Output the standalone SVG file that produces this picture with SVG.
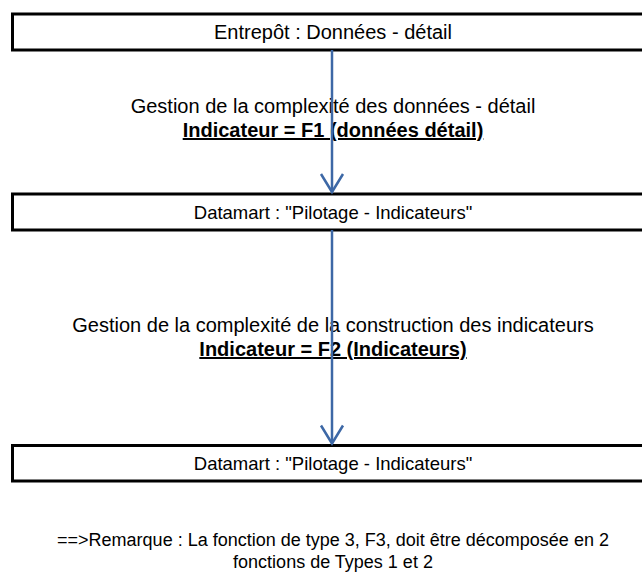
<svg xmlns="http://www.w3.org/2000/svg" width="642" height="573" viewBox="0 0 642 573">
<defs>
<style>
.box{fill:#fff;stroke:#000;stroke-width:3}
.t{font-family:"Liberation Sans",Arial,sans-serif;font-size:20px;fill:#000;text-anchor:middle}
.s{font-size:18px}
.m{font-size:18.5px}
.b{font-weight:bold;text-decoration:underline}
.conn{stroke:#3d68a6;stroke-width:2.5;fill:none}
</style>
<marker id="arr" markerUnits="userSpaceOnUse" markerWidth="22" markerHeight="26" refX="19" refY="12" orient="auto" viewBox="0 0 22 24" overflow="visible">
<path d="M1,1 L19,12 L1,23" fill="none" stroke="#3d68a6" stroke-width="2.5"/>
</marker>
</defs>
<rect width="642" height="573" fill="#fff"/>
<g id="n1"><rect class="box" x="12.5" y="14" width="640" height="36"/><text class="t" x="333" y="39">Entrepôt : Données - détail</text></g>
<g id="n2"><rect class="box" x="12.5" y="194" width="640" height="36"/><text class="t m" x="333" y="218.5">Datamart : "Pilotage - Indicateurs"</text></g>
<g id="n3"><rect class="box" x="12.5" y="445.5" width="640" height="35.5"/><text class="t m" x="333" y="469.5">Datamart : "Pilotage - Indicateurs"</text></g>
<g id="labels">
<text class="t" x="333" y="113">Gestion de la complexité des données - détail</text>
<text class="t b" x="333" y="137">Indicateur = F1 (données détail)</text>
<text class="t" x="333" y="332">Gestion de la complexité de la construction des indicateurs</text>
<text class="t b" x="333" y="356">Indicateur = F2 (Indicateurs)</text>
<text class="t s" x="333" y="546">==&gt;Remarque : La fonction de type 3, F3, doit être décomposée en 2</text>
<text class="t s" x="333" y="568">fonctions de Types 1 et 2</text>
</g>
<g id="connectors">
<line class="conn" x1="332" y1="50" x2="332" y2="192" marker-end="url(#arr)"/>
<line class="conn" x1="332" y1="230" x2="332" y2="443.5" marker-end="url(#arr)"/>
</g>
</svg>
